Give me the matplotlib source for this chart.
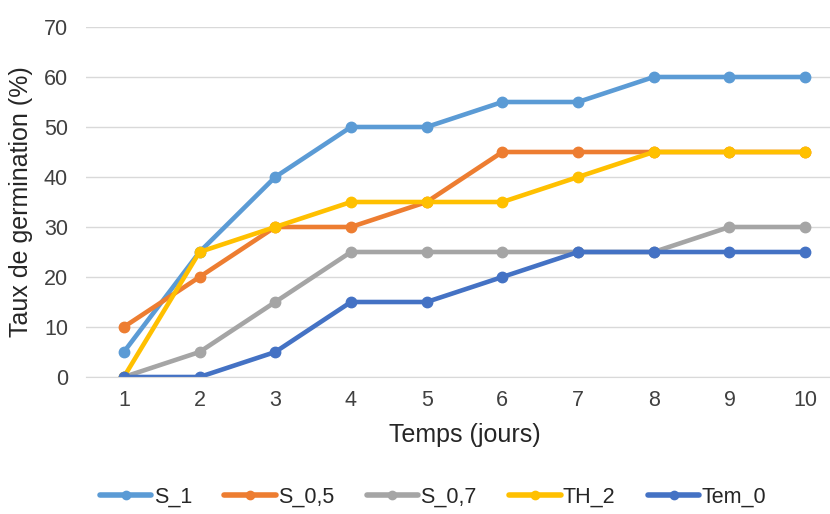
import numpy as np
import matplotlib.pyplot as plt

plt.rcParams['font.family'] = ['Liberation Sans', 'DejaVu Sans']

jours = [1, 2, 3, 4, 5, 6, 7, 8, 9, 10]
s_1 = [5, 25, 40, 50, 50, 55, 55, 60, 60, 60]
s_05 = [10, 20, 30, 30, 35, 45, 45, 45, 45, 45]
s_07 = [0, 5, 15, 25, 25, 25, 25, 25, 30, 30]
th_2 = [0, 25, 30, 35, 35, 35, 40, 45, 45, 45]
tem_0 = [0, 0, 5, 15, 15, 20, 25, 25, 25, 25]

series = [("S_1", s_1, "#5B9BD5"),
          ("S_0,5", s_05, "#ED7D31"),
          ("S_0,7", s_07, "#A5A5A5"),
          ("TH_2", th_2, "#FFC000"),
          ("Tem_0", tem_0, "#4472C4")]

fig = plt.figure(figsize=(8.3, 5.14), dpi=100)
ax = fig.add_axes([86/830, 137/514, (843-86)/830, 350/514])

for name, vals, col in series:
    ax.plot(jours, vals, color=col, lw=3.3, marker='o', ms=7.5, label=name,
            solid_capstyle='round')

ax.set_xlim(0.5, 10.5)
ax.set_ylim(0, 70)
ax.set_yticks(np.arange(0, 71, 10))
ax.set_xticks(jours)
ax.grid(axis='y', color='#D9D9D9', lw=1)
ax.set_axisbelow(True)
for s in ['top', 'right', 'left']:
    ax.spines[s].set_visible(False)
ax.spines['bottom'].set_color('#D9D9D9')
ax.tick_params(length=0, labelsize=15.5, colors='#404040', pad=9)
ax.tick_params(axis='y', pad=13)
ax.set_xlabel("Temps (jours)", fontsize=18, color='#262626', labelpad=9)
ax.set_ylabel("Taux de germination (%)", fontsize=18, color='#262626', labelpad=8)

leg = fig.legend(loc='center', bbox_to_anchor=(433/830, 17/514), ncol=5, frameon=False,
                 fontsize=15.5, handlelength=2.4, columnspacing=1.5, handletextpad=0.1,
                 markerscale=0.8)
for ln in leg.get_lines():
    ln.set_linewidth(4)
for t in leg.get_texts():
    t.set_color('#262626')

fig.savefig("out.png", dpi=100)
